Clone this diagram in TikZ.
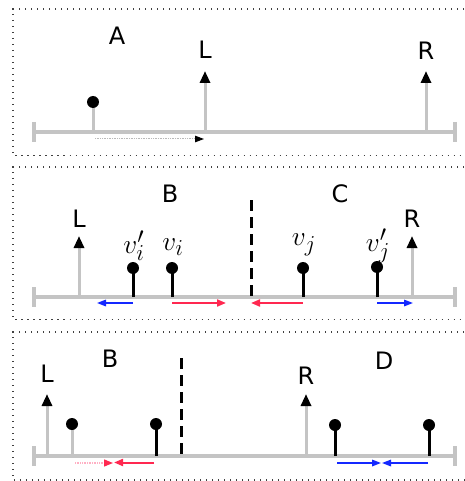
\documentclass[tikz,border=0pt]{standalone}
\usepackage{fontspec}
\setmainfont{DejaVu Sans}
\usetikzlibrary{arrows.meta}
\definecolor{axgray}{RGB}{196,196,196}
\definecolor{myred}{RGB}{255,40,80}
\definecolor{palered}{RGB}{255,175,195}
\definecolor{myblue}{RGB}{20,40,255}
\definecolor{faint}{RGB}{185,185,185}
\begin{document}
\begin{tikzpicture}[x=1pt,y=-1pt,
  axisline/.style={draw=axgray, line width=4pt},
  endtick/.style={draw=axgray, line width=3.2pt},
  frameline/.style={draw=black!75, line width=1.2pt, dash pattern=on 1.2pt off 4.8pt},
  ball/.style={circle, fill=black, inner sep=0pt, minimum size=12pt},
  stemblack/.style={draw=black, line width=3pt},
  stemgray/.style={draw=axgray, line width=3pt},
  uparrow/.style={draw=axgray, line width=3pt, -{Triangle[length=12pt,width=10pt,color=black]}},
  divider/.style={draw=black, line width=3pt, dash pattern=on 11pt off 6pt},
  lbl/.style={font=\fontsize{24}{28}\selectfont, inner sep=0pt},
  mlbl/.style={font=\fontsize{24.88}{30}\selectfont, inner sep=0pt, transform shape, scale=1.1},
  redarrow/.style={draw=myred, line width=2pt, -{Triangle[length=9pt,width=7pt]}},
  bluearrow/.style={draw=myblue, line width=1.6pt, -{Triangle[length=9pt,width=6.5pt]}},
  fadearrow/.style={draw=faint, line width=1pt, dash pattern=on 1pt off 0.7pt, -{Triangle[length=9pt,width=6.5pt,color=black,sep=0pt]}},
  fadered/.style={draw=palered, line width=1.3pt, dash pattern=on 1pt off 0.7pt, -{Triangle[length=9pt,width=7pt,color=myred]}}
]
\useasboundingbox (0,0) rectangle (464,481);

% ---------- frames ----------
\draw[frameline] (470,9) -- (13,9) -- (13,155.5) -- (470,155.5);
\draw[frameline] (470,167) -- (13,167) -- (13,319.5) -- (470,319.5);
\draw[frameline] (470,332) -- (13,332) -- (13,480) -- (470,480);

% ---------- panel A ----------
\coordinate (a0) at (34,132);
\coordinate (a1) at (455,132);
\draw[axisline] (a0) -- (a1);
\draw[endtick] (34,122) -- (34,142);
\draw[endtick] (455,122) -- (455,142);
\node[lbl] (A) at (117,36) {A};
\coordinate (abase) at (93,132);
\draw[stemgray] (abase) -- (93,102);
\node[ball] (aball) at (93,102) {};
\coordinate (aLb) at (205,132);
\coordinate (aLt) at (205,71);
\draw[uparrow] (aLb) -- (aLt);
\node[lbl] (aL) at (205,50) {L};
\coordinate (aRb) at (426,132);
\coordinate (aRt) at (426,71);
\draw[uparrow] (aRb) -- (aRt);
\node[lbl] (aR) at (426,51) {R};
\coordinate (am0) at (95,139);
\coordinate (am1) at (204,139);
\draw[fadearrow] (am0) -- (am1);

% ---------- panel B/C ----------
\coordinate (b0) at (34,297);
\coordinate (b1) at (455,297);
\draw[axisline] (b0) -- (b1);
\draw[endtick] (34,287) -- (34,307);
\draw[endtick] (455,287) -- (455,307);
\node[lbl] (B1) at (170,194) {B};
\node[lbl] (C1) at (340,194) {C};
\coordinate (bLb) at (79,297);
\coordinate (bLt) at (79,236);
\draw[uparrow] (bLb) -- (bLt);
\node[lbl] (bL) at (79,219) {L};
\coordinate (bRb) at (412,297);
\coordinate (bRt) at (412,236);
\draw[uparrow] (bRb) -- (bRt);
\node[lbl] (bR) at (412,219) {R};
\coordinate (bd0) at (251,200);
\coordinate (bd1) at (251,297);
\draw[divider] (bd0) -- (bd1);
% stems then balls
\draw[stemblack] (133,297) -- (133,268);
\draw[stemblack] (172,297) -- (172,268);
\draw[stemblack] (303,297) -- (303,268);
\draw[stemblack] (377,297) -- (377,267);
\node[ball] (vip) at (133,268) {};
\node[ball] (vi) at (172,268) {};
\node[ball] (vj) at (303,268) {};
\node[ball] (vjp) at (377,267) {};
\node[mlbl] (lvip) at (134,246) {$v_i'$};
\node[mlbl] (lvi) at (173,247) {$v_i$};
\node[mlbl] (lvj) at (304,245) {$v_j$};
\node[mlbl] (lvjp) at (378,246) {$v_j'$};
% arrows
\coordinate (ba1s) at (133,303); \coordinate (ba1e) at (97,303);
\draw[bluearrow] (ba1s) -- (ba1e);
\coordinate (ba2s) at (172,303); \coordinate (ba2e) at (226,303);
\draw[redarrow] (ba2s) -- (ba2e);
\coordinate (ba3s) at (303,303); \coordinate (ba3e) at (251,303);
\draw[redarrow] (ba3s) -- (ba3e);
\coordinate (ba4s) at (377,303); \coordinate (ba4e) at (413,303);
\draw[bluearrow] (ba4s) -- (ba4e);

% ---------- panel B/D ----------
\coordinate (c0) at (34,456);
\coordinate (c1) at (455,456);
\draw[axisline] (c0) -- (c1);
\draw[endtick] (34,446) -- (34,466);
\draw[endtick] (455,446) -- (455,466);
\node[lbl] (B2) at (110,359) {B};
\node[lbl] (D2) at (384,361) {D};
\coordinate (cLb) at (47,456);
\coordinate (cLt) at (47,394);
\draw[uparrow] (cLb) -- (cLt);
\node[lbl] (cL) at (47,374) {L};
\coordinate (cRb) at (306,456);
\coordinate (cRt) at (306,394);
\draw[uparrow] (cRb) -- (cRt);
\node[lbl] (cR) at (306,376) {R};
\coordinate (cd0) at (181,358);
\coordinate (cd1) at (181,456);
\draw[divider] (cd0) -- (cd1);
\draw[stemgray] (72,456) -- (72,424);
\draw[stemblack] (156,456) -- (156,424);
\draw[stemblack] (335,456) -- (335,425);
\draw[stemblack] (429,456) -- (429,425);
\node[ball] (cg) at (72,424) {};
\node[ball] (cb1) at (156,424) {};
\node[ball] (cb2) at (335,425) {};
\node[ball] (cb3) at (429,425) {};
% arrows
\coordinate (ca1s) at (75,463); \coordinate (ca1e) at (113,463);
\draw[fadered] (ca1s) -- (ca1e);
\coordinate (ca2s) at (154,462.5); \coordinate (ca2e) at (114,462.5);
\draw[redarrow] (ca2s) -- (ca2e);
\coordinate (ca3s) at (337,463); \coordinate (ca3e) at (381,463);
\draw[bluearrow] (ca3s) -- (ca3e);
\coordinate (ca4s) at (428,463); \coordinate (ca4e) at (382,463);
\draw[bluearrow] (ca4s) -- (ca4e);
\end{tikzpicture}
\end{document}
